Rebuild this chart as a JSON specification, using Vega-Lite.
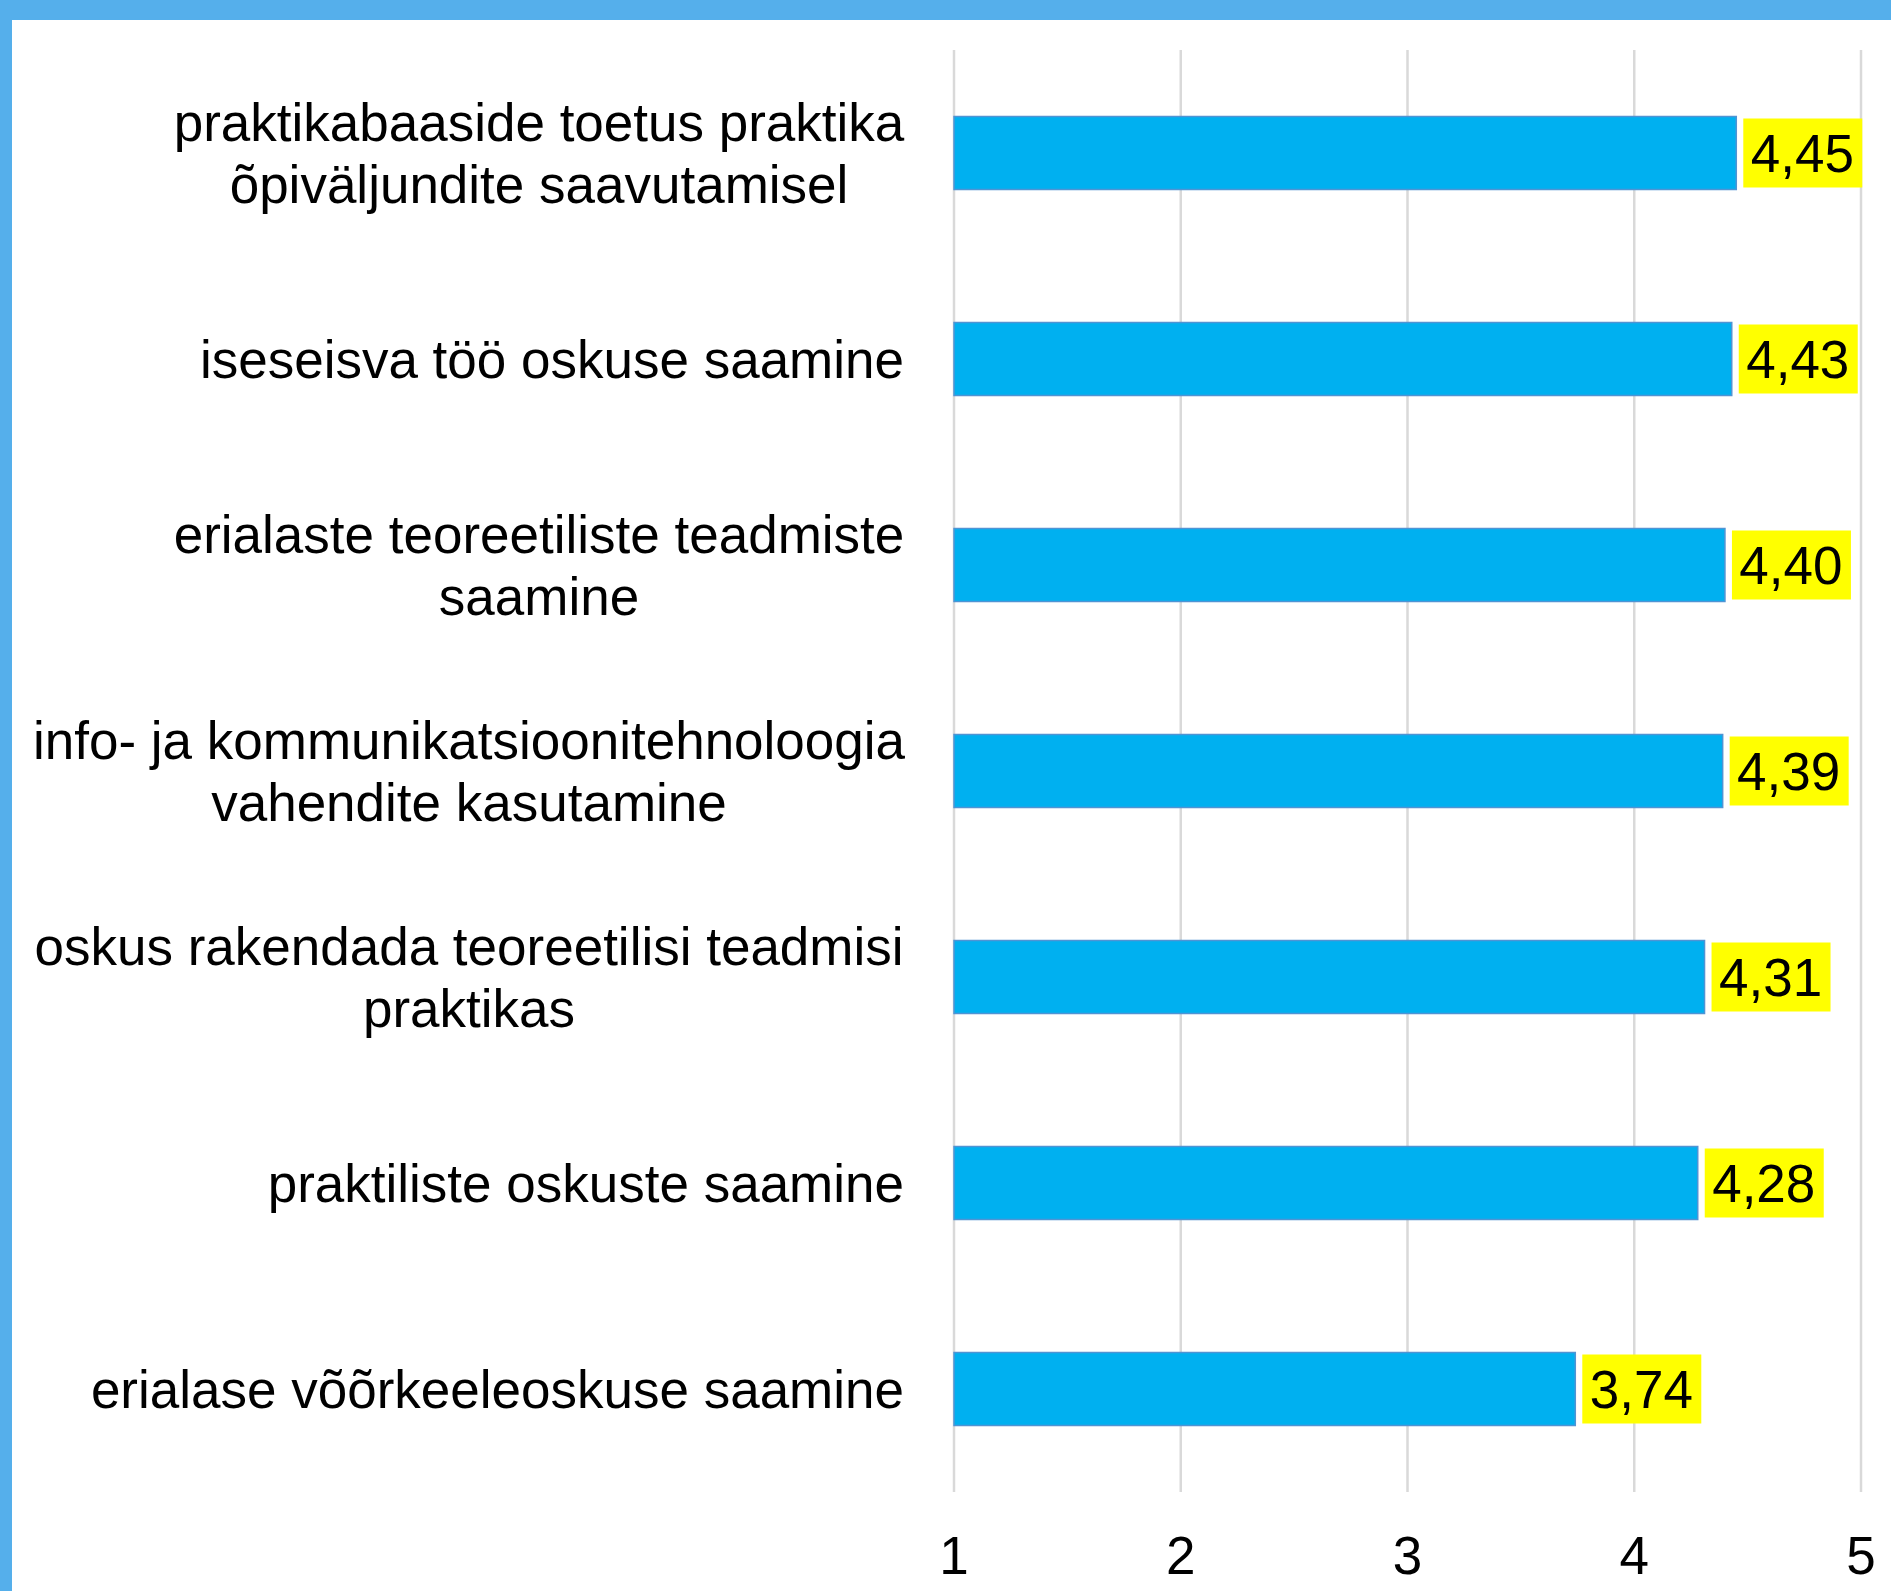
{
  "$schema": "https://vega.github.io/schema/vega-lite/v6.json",
  "width": 1879,
  "height": 1571,
  "autosize": {"type": "none"},
  "padding": {"left": 12, "top": 20, "right": 0, "bottom": 0},
  "background": "#55AFEB",
  "config": {
    "view": {"fill": "#FFFFFF", "stroke": null},
    "font": "Liberation Sans",
    "locale": {"number": {"decimal": ",", "thousands": " ", "grouping": [3], "currency": ["", " €"]}}
  },
  "data": {
    "values": [
      {"label": "praktikabaaside toetus praktika\nõpiväljundite saavutamisel", "v": 4.45},
      {"label": "iseseisva töö oskuse saamine", "v": 4.43},
      {"label": "erialaste teoreetiliste teadmiste\nsaamine", "v": 4.40},
      {"label": "info- ja kommunikatsioonitehnoloogia\nvahendite kasutamine", "v": 4.39},
      {"label": "oskus rakendada teoreetilisi teadmisi\npraktikas", "v": 4.31},
      {"label": "praktiliste oskuste saamine", "v": 4.28},
      {"label": "erialase võõrkeeleoskuse saamine", "v": 3.74}
    ]
  },
  "layer": [
    {
      "data": {"values": [{"t": 1}, {"t": 2}, {"t": 3}, {"t": 4}, {"t": 5}]},
      "encoding": {
        "x": {
          "field": "t", "type": "quantitative",
          "scale": {"domain": [1, 5], "range": [942, 1849], "nice": false, "zero": false},
          "axis": null
        }
      },
      "layer": [
        {
          "mark": {"type": "rule", "color": "#D9D9D9", "strokeWidth": 2.5},
          "encoding": {
            "y": {"datum": 0, "type": "quantitative", "scale": {"domain": [-0.1456, 7.4806], "reverse": true, "nice": false, "zero": false}, "axis": null},
            "y2": {"datum": 7}
          }
        },
        {
          "mark": {"type": "text", "fontSize": 53, "font": "Liberation Sans", "color": "#000000", "align": "center", "baseline": "alphabetic"},
          "encoding": {
            "y": {"datum": 7.398, "type": "quantitative", "axis": null},
            "text": {"field": "t", "type": "quantitative", "format": "d"}
          }
        }
      ]
    },
    {
      "encoding": {
        "y": {
          "field": "label", "type": "nominal", "sort": null,
          "scale": {"range": [30, 1472], "paddingInner": 0.645, "paddingOuter": 0.3225},
          "axis": null
        }
      },
      "layer": [
        {
          "mark": {"type": "bar", "fill": "#00B0F0", "stroke": "#4F94D4", "strokeWidth": 1.5},
          "encoding": {
            "x": {"field": "v", "type": "quantitative", "axis": null},
            "x2": {"datum": 1}
          }
        },
        {
          "mark": {"type": "point", "shape": "M-1,-0.58L1,-0.58L1,0.58L-1,0.58Z", "size": 14161, "filled": true, "fill": "#FFFF00", "opacity": 1, "strokeWidth": 0, "xOffset": 66.5},
          "encoding": {
            "x": {"field": "v", "type": "quantitative", "axis": null}
          }
        },
        {
          "mark": {"type": "text", "fontSize": 53, "font": "Liberation Sans", "color": "#000000", "align": "center", "baseline": "middle", "dx": 66, "dy": 3},
          "encoding": {
            "x": {"field": "v", "type": "quantitative", "axis": null},
            "text": {"field": "v", "type": "quantitative", "format": ".2f"}
          }
        },
        {
          "transform": [{"filter": {"field": "label", "oneOf": ["iseseisva töö oskuse saamine", "praktiliste oskuste saamine", "erialase võõrkeeleoskuse saamine"]}}],
          "mark": {"type": "text", "fontSize": 53, "font": "Liberation Sans", "color": "#000000", "align": "right", "baseline": "middle", "dx": -50, "dy": 3},
          "encoding": {
            "x": {"datum": 1, "type": "quantitative", "axis": null},
            "text": {"field": "label", "type": "nominal"}
          }
        },
        {
          "transform": [{"filter": {"field": "label", "oneOf": ["praktikabaaside toetus praktika\nõpiväljundite saavutamisel", "erialaste teoreetiliste teadmiste\nsaamine"]}}],
          "mark": {"type": "text", "fontSize": 53, "font": "Liberation Sans", "color": "#000000", "align": "center", "baseline": "middle", "lineBreak": "\n", "lineHeight": 62, "dx": -415, "dy": -28},
          "encoding": {
            "x": {"datum": 1, "type": "quantitative", "axis": null},
            "text": {"field": "label", "type": "nominal"}
          }
        },
        {
          "transform": [{"filter": {"field": "label", "oneOf": ["info- ja kommunikatsioonitehnoloogia\nvahendite kasutamine", "oskus rakendada teoreetilisi teadmisi\npraktikas"]}}],
          "mark": {"type": "text", "fontSize": 53, "font": "Liberation Sans", "color": "#000000", "align": "center", "baseline": "middle", "lineBreak": "\n", "lineHeight": 62, "dx": -485, "dy": -28},
          "encoding": {
            "x": {"datum": 1, "type": "quantitative", "axis": null},
            "text": {"field": "label", "type": "nominal"}
          }
        }
      ]
    }
  ],
  "resolve": {"scale": {"y": "independent"}}
}
